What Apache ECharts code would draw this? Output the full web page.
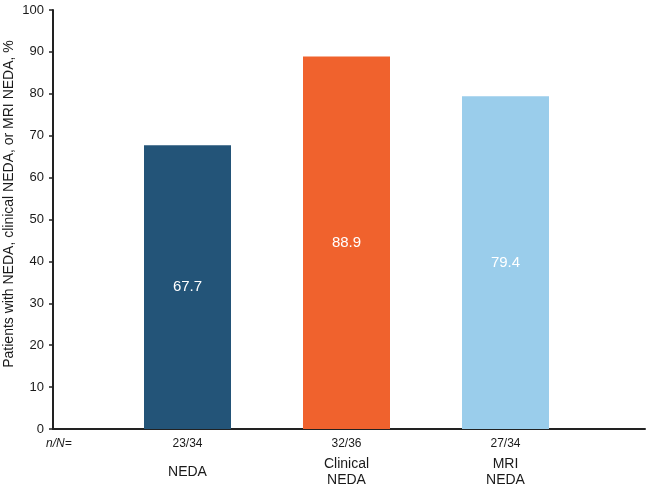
<!DOCTYPE html>
<html>
<head>
<meta charset="utf-8">
<script src="https://cdn.jsdelivr.net/npm/echarts@6/dist/echarts.min.js"></script>
<style>
  html, body { margin: 0; padding: 0; background: #fff; }
  #chart { width: 646px; height: 488px; }
</style>
</head>
<body>
<div id="chart"></div>
<script>
const categories = ['NEDA', 'Clinical\nNEDA', 'MRI\nNEDA']
const nOverN = ['23/34', '32/36', '27/34']
const values = [67.7, 88.9, 79.4]
const barColors = ['#235478', '#f0622d', '#9acdeb']
const yTitle = 'Patients with NEDA, clinical NEDA, or MRI NEDA, %'

const chart = echarts.init(document.getElementById('chart'))
const font = 'Liberation Sans, Arial, sans-serif'

chart.setOption({
  animation: false,
  textStyle: { fontFamily: font },
  grid: [
    { left: 108, right: 61, top: 10, bottom: 59 },
    { left: 53, right: 1, top: 10, bottom: 59 }
  ],
  xAxis: [
    {
      type: 'category',
      gridIndex: 0,
      data: categories,
      axisLine: { show: false },
      axisTick: { show: false },
      axisLabel: {
        margin: 3,
        interval: 0,
        formatter: (v, i) => {
          const lines = v.split('\n')
          if (lines.length > 1) return `{n|${nOverN[i]}}\n` + lines.map(l => `{c|${l}}`).join('\n')
          return `{n|${nOverN[i]}}\n{t|${v}}`
        },
        rich: {
          n: { fontSize: 12, lineHeight: 24, color: '#1a1a1a', fontFamily: font },
          c: { fontSize: 14, lineHeight: 16, color: '#1a1a1a', fontFamily: font },
          t: { fontSize: 14, lineHeight: 33, color: '#1a1a1a', fontFamily: font }
        }
      }
    },
    {
      type: 'value',
      gridIndex: 1,
      min: 0,
      max: 1,
      axisLine: { show: true, lineStyle: { color: '#222', width: 2 } },
      axisTick: { show: false },
      axisLabel: { show: false },
      splitLine: { show: false }
    }
  ],
  yAxis: [
    {
      type: 'value',
      gridIndex: 0,
      min: 0,
      max: 100,
      interval: 10,
      offset: 55,
      axisLine: { show: true, lineStyle: { color: '#222', width: 2 } },
      axisTick: { show: true, length: 4, lineStyle: { color: '#222', width: 1.5 } },
      axisLabel: { margin: 9, fontSize: 13, color: '#1a1a1a', fontFamily: font },
      splitLine: { show: false }
    },
    {
      type: 'value',
      gridIndex: 1,
      min: 0,
      max: 1,
      show: false
    }
  ],
  graphic: [
    {
      type: 'text',
      x: 9,
      y: 204,
      rotation: Math.PI / 2,
      style: {
        text: yTitle,
        align: 'center',
        verticalAlign: 'middle',
        fontSize: 14,
        fill: '#1a1a1a',
        fontFamily: font
      }
    },
    {
      type: 'text',
      x: 46,
      y: 444,
      style: {
        text: 'n/N=',
        align: 'left',
        verticalAlign: 'middle',
        fontSize: 12,
        fontStyle: 'italic',
        fill: '#1a1a1a',
        fontFamily: font
      }
    }
  ],
  series: [
    {
      type: 'bar',
      xAxisIndex: 0,
      yAxisIndex: 0,
      barWidth: 87,
      data: values.map((v, i) => ({ value: v, itemStyle: { color: barColors[i] } })),
      label: {
        show: true,
        position: 'inside',
        color: '#fff',
        fontSize: 15,
        fontFamily: font,
        formatter: p => p.value.toFixed(1)
      }
    }
  ]
})
</script>
</body>
</html>
